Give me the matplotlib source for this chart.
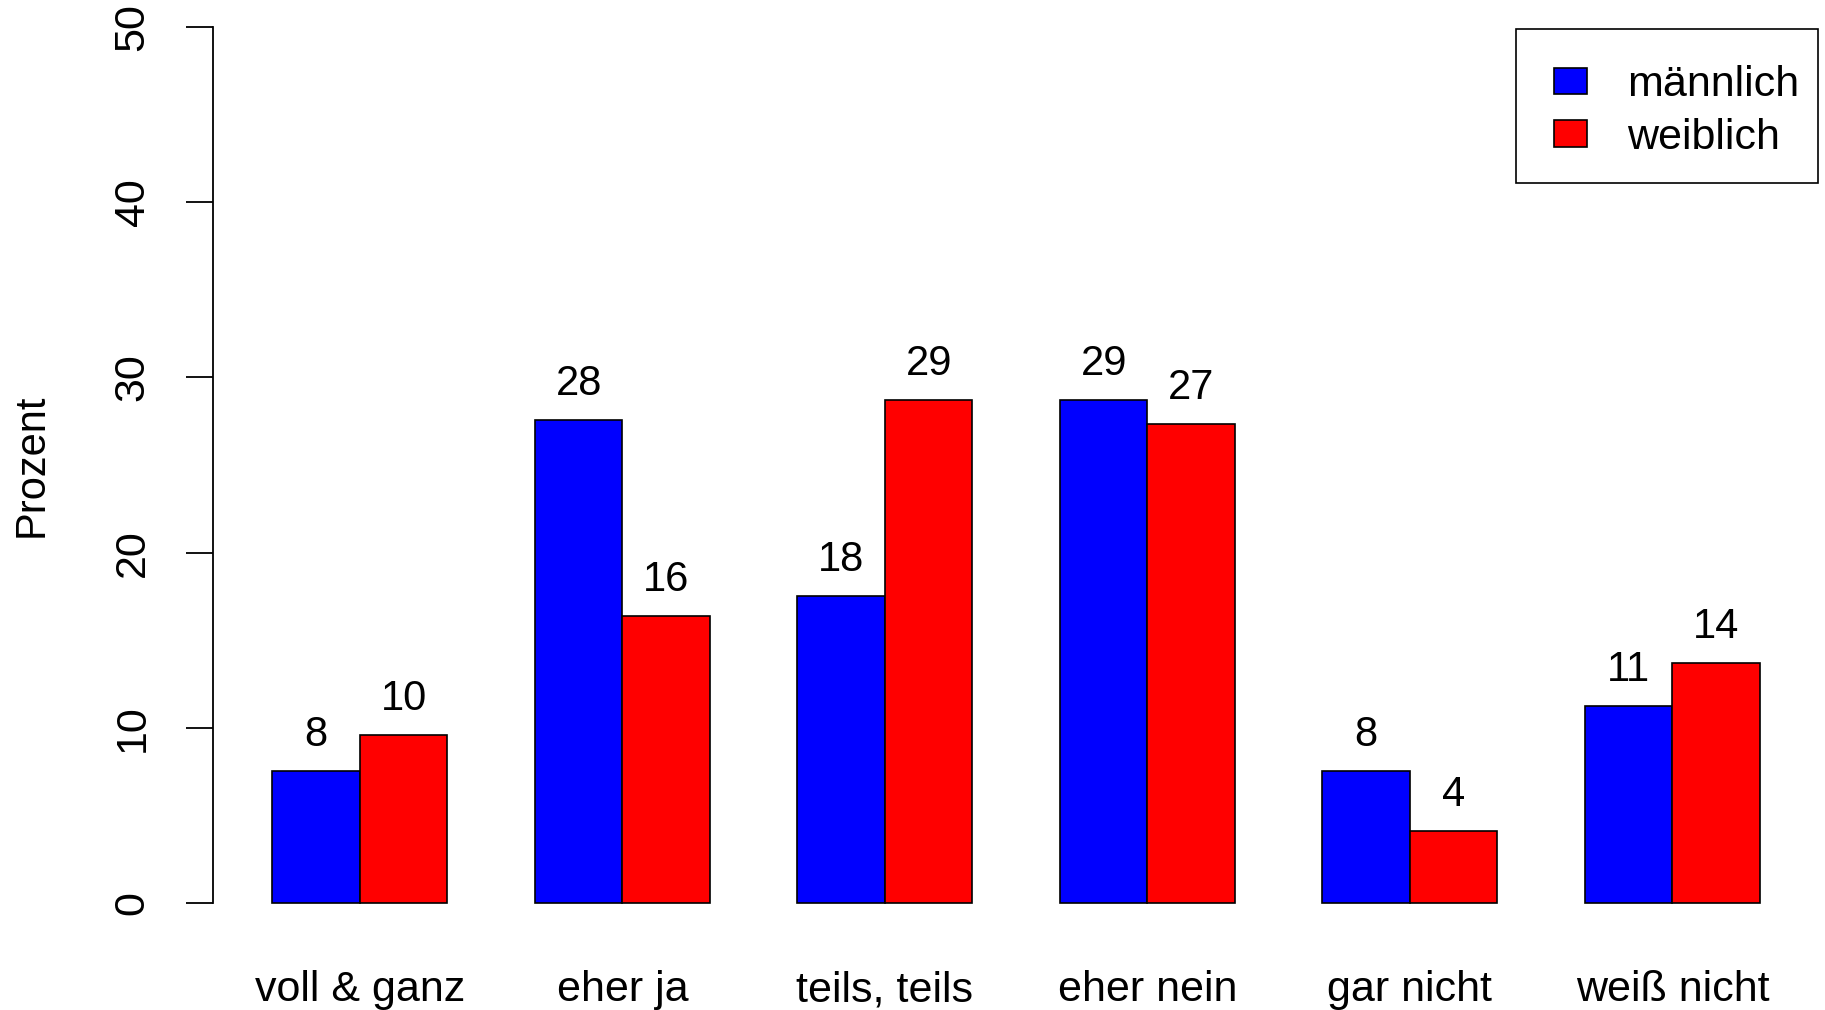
import matplotlib.pyplot as plt
from matplotlib.patches import Rectangle
import numpy as np

plt.rcParams['font.family'] = ['Liberation Sans', 'DejaVu Sans']

# Data (percent)
categories = ["voll & ganz", "eher ja", "teils, teils", "eher nein", "gar nicht", "weiß nicht"]
maennlich = [7.52, 27.55, 17.55, 28.7, 7.52, 11.25]
weiblich = [9.6, 16.4, 28.7, 27.35, 4.13, 13.7]
series_names = ["männlich", "weiblich"]
colors = ["#0000FF", "#FF0000"]

W, H = 1825, 1010
fig = plt.figure(figsize=(W / 100, H / 100), dpi=100)

# place axes like R's barplot region (xlim 0.32..18.68, ylim -2..52)
ax = fig.add_axes([212.9 / W, 1 - 938.4 / H, (1819.4 - 212.9) / W, (938.4 + 8.4) / H])
ax.set_xlim(0.32, 18.68)
ax.set_ylim(-2, 52)

# R style bar positions: width 1, one bar gap between groups
x = np.arange(len(categories)) * 3
left_m = x + 1
left_w = x + 2
ax.bar(left_m, maennlich, width=1, align='edge', color=colors[0], edgecolor='black', linewidth=1.2)
ax.bar(left_w, weiblich, width=1, align='edge', color=colors[1], edgecolor='black', linewidth=1.2)

for xs, vals in [(left_m, maennlich), (left_w, weiblich)]:
    for xi, v in zip(xs, vals):
        ax.annotate(f"{v:.0f}", (xi + 0.5, v), xytext=(0, 18), textcoords='offset points',
                    ha='center', va='baseline', fontsize=30)

for s in ['top', 'right', 'bottom']:
    ax.spines[s].set_visible(False)
ax.spines['left'].set_bounds(0, 50)
ax.spines['left'].set_linewidth(1.3)

ax.set_yticks([0, 10, 20, 30, 40, 50])
ax.tick_params(axis='y', length=19.4, width=1.3, pad=24, labelsize=31)
for lab in ax.get_yticklabels():
    lab.set_rotation(90)
    lab.set_va('center')

ax.set_xticks(x + 2)
ax.set_xticklabels(categories)
ax.tick_params(axis='x', length=0, pad=23, labelsize=31)

fig.text(32 / W, 1 - 465 / H, "Prozent", rotation=90, ha='center', va='center', fontsize=30)

# legend box drawn in figure pixels
def fx(px):
    return px / W

def fy(py):
    return 1 - py / H

fig.patches.append(Rectangle((fx(1515.7), fy(183.3)), fx(1818) - fx(1515.7), fy(29.3) - fy(183.3),
                             transform=fig.transFigure, facecolor='white', edgecolor='black', linewidth=1.2))
for i, (name, c) in enumerate(zip(series_names, colors)):
    top = 67.7 + i * 52.3
    fig.patches.append(Rectangle((fx(1554), fy(top + 26.6)), fx(1587) - fx(1554), fy(top) - fy(top + 26.6),
                                 transform=fig.transFigure, facecolor=c, edgecolor='black', linewidth=1.2))
    fig.text(fx(1626.7), fy(top + 13.3), name, ha='left', va='center_baseline', fontsize=31)

fig.savefig("out.png", dpi=100)
